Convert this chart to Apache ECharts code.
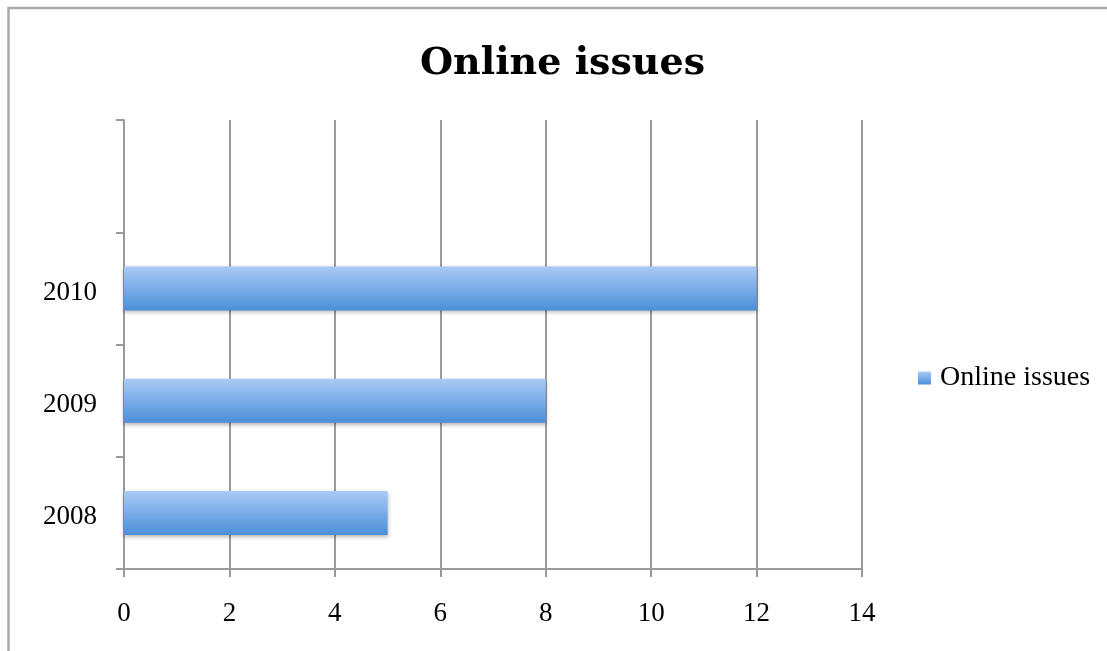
<!DOCTYPE html>
<html>
<head>
<meta charset="utf-8">
<script src="https://cdn.jsdelivr.net/npm/echarts@6/dist/echarts.min.js"></script>
<style>html,body{margin:0;padding:0;background:#fff;}#c{width:1107px;height:651px;}</style>
</head>
<body>
<div id="c"></div>
<script>
var categories = ['2008', '2009', '2010', ''];
var values = [5, 8, 12, null];
var seriesName = 'Online issues';
var titleText = 'Online issues';
var xTicks = { min: 0, max: 14, interval: 2 };

var chart = echarts.init(document.getElementById('c'), null, { renderer: 'canvas' });
var serif = '"Liberation Serif", serif';
var gridColor = '#9a9a9a';
var barGrad = new echarts.graphic.LinearGradient(0, 0, 0, 1, [
  { offset: 0, color: '#a9cbf7' },
  { offset: 1, color: '#4b8fd8' }
]);
chart.setOption({
  animation: false,
  backgroundColor: '#fff',
  title: {
    text: titleText,
    left: 415,
    top: 40,
    textStyle: { fontFamily: '"DejaVu Serif", serif', fontWeight: 'bold', fontSize: 38, color: '#000' }
  },
  legend: {
    data: [seriesName],
    left: 913,
    top: 359,
    orient: 'vertical',
    icon: 'rect',
    itemWidth: 13,
    itemHeight: 13,
    itemGap: 8,
    textStyle: { fontFamily: serif, fontSize: 28, color: '#000', padding: [0, 0, 0, 4] }
  },
  grid: { left: 124, right: 245, top: 120, bottom: 82, containLabel: false },
  xAxis: {
    type: 'value',
    min: xTicks.min,
    max: xTicks.max,
    interval: xTicks.interval,
    axisLine: { show: true, lineStyle: { color: gridColor, width: 2 } },
    axisTick: { show: true, inside: false, length: 8, lineStyle: { color: gridColor, width: 2 } },
    axisLabel: { fontFamily: serif, fontSize: 27, color: '#000', margin: 31 },
    splitLine: { show: true, lineStyle: { color: gridColor, width: 2 } }
  },
  yAxis: {
    type: 'category',
    data: categories,
    boundaryGap: true,
    axisLine: { show: true, lineStyle: { color: gridColor, width: 2 } },
    axisTick: { show: true, inside: false, length: 8, lineStyle: { color: gridColor, width: 2 } },
    axisLabel: {
      fontFamily: serif, fontSize: 27, color: '#000', margin: 27,
      formatter: '{a|{value}}',
      rich: { a: { fontFamily: serif, fontSize: 27, color: '#000', padding: [9, 0, 0, 0] } }
    },
    splitLine: { show: false }
  },
  series: [{
    name: seriesName,
    type: 'bar',
    data: values,
    barWidth: 44,
    itemStyle: {
      color: barGrad,
      shadowColor: 'rgba(0,0,0,0.3)',
      shadowBlur: 4,
      shadowOffsetY: 2
    }
  }],
  graphic: [
    { type: 'line', shape: { x1: 8, y1: 8, x2: 1107, y2: 8 }, style: { stroke: '#aaaaaa', lineWidth: 2.5 } },
    { type: 'line', shape: { x1: 8.5, y1: 7, x2: 8.5, y2: 651 }, style: { stroke: '#aaaaaa', lineWidth: 2.5 } }
  ]
});
</script>
</body>
</html>
